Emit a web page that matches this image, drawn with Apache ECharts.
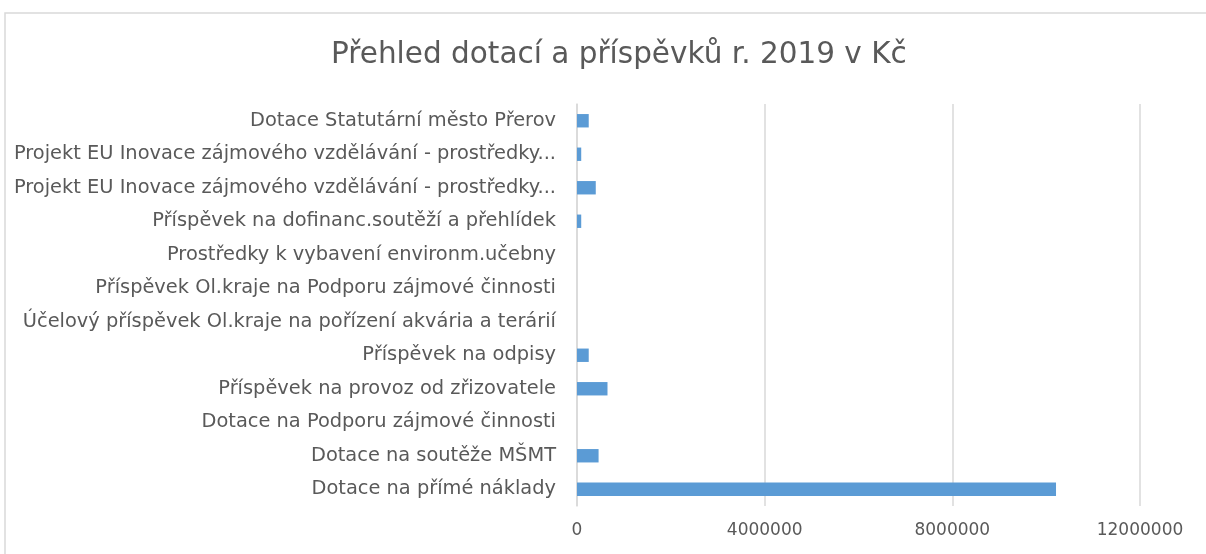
<!DOCTYPE html>
<html><head><meta charset="utf-8">
<script src="https://cdn.jsdelivr.net/npm/echarts@6/dist/echarts.min.js"></script>
<style>html,body{margin:0;padding:0;background:#fff}#c{width:1206px;height:554px}</style>
</head><body><div id="c"></div>
<script>
const titleText = 'Přehled dotací a příspěvků r. 2019 v Kč';
const categories = [
  'Dotace Statutární město Přerov',
  'Projekt EU Inovace zájmového vzdělávání - prostředky...',
  'Projekt EU Inovace zájmového vzdělávání - prostředky...',
  'Příspěvek na dofinanc.soutěží a přehlídek',
  'Prostředky k vybavení environm.učebny',
  'Příspěvek Ol.kraje na Podporu zájmové činnosti',
  'Účelový příspěvek Ol.kraje na pořízení akvária a terárií',
  'Příspěvek na odpisy',
  'Příspěvek na provoz od zřizovatele',
  'Dotace na Podporu zájmové činnosti',
  'Dotace na soutěže MŠMT',
  'Dotace na přímé náklady'
];
const values = [250000, 90000, 400000, 90000, 0, 0, 0, 250000, 650000, 0, 460000, 10210000];
const xTicks = [0, 4000000, 8000000, 12000000];

const chart = echarts.init(document.getElementById('c'));
chart.setOption({
  animation: false,
  title: {text: titleText, left: 326, top: 35, textStyle: {fontFamily: 'DejaVu Sans', fontSize: 29.5, fontWeight: 'normal', color: '#595959'}},
  graphic: [{type: 'polyline', shape: {points: [[5, 554], [5, 13], [1206, 13]]}, style: {stroke: '#d9d9d9', lineWidth: 1.5, fill: null}}],
  grid: {left: 577, right: 66, top: 104, bottom: 48, containLabel: false},
  xAxis: {type: 'value', min: xTicks[0], max: xTicks[xTicks.length - 1], interval: 4000000,
    axisLine: {show: false}, axisTick: {show: false},
    splitLine: {lineStyle: {color: '#d9d9d9', width: 1.5}},
    axisLabel: {color: '#595959', fontFamily: 'DejaVu Sans', fontSize: 17, margin: 16, formatter: v => String(v)}},
  yAxis: {type: 'category', inverse: true, data: categories,
    axisLine: {lineStyle: {color: '#d9d9d9', width: 1.5}}, axisTick: {show: false},
    axisLabel: {color: '#595959', fontFamily: 'DejaVu Sans', fontSize: 19.4, margin: 21, interval: 0}},
  series: [{type: 'bar', data: values, barWidth: '40%', itemStyle: {color: '#5b9bd5'}}]
});
</script></body></html>
